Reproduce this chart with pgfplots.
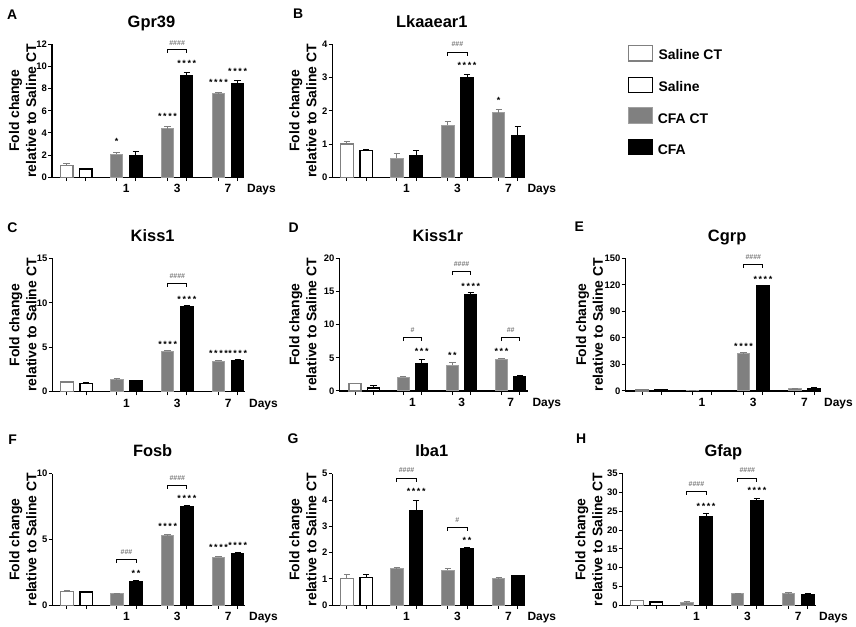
\documentclass[border=0pt]{standalone}
\usepackage{fontspec}
\setmainfont{Liberation Sans}
\usepackage{pgfplots}
\pgfplotsset{compat=1.18}
\definecolor{cgray}{HTML}{808080}
\definecolor{cedge}{HTML}{A0A0A0}
\definecolor{hgray}{HTML}{7A7A7A}

\newcommand{\tfont}{\fontsize{16.5}{18}\selectfont\bfseries}
\newcommand{\lfont}{\fontsize{14}{16}\selectfont\bfseries}
\newcommand{\yfont}{\fontsize{14}{17}\selectfont\bfseries}
\newcommand{\xfont}{\fontsize{12}{14}\selectfont\bfseries}
\newcommand{\tkfont}{\fontsize{9.5}{10}\selectfont\bfseries}
\newcommand{\sfont}{\fontsize{9}{9}\selectfont\bfseries}
\newcommand{\hfont}{\fontsize{7}{7}\selectfont\bfseries}

\newcommand{\one}{*}
\newcommand{\two}{*\kern1.6bp*}
\newcommand{\three}{*\kern1.6bp*\kern1.6bp*}
\newcommand{\four}{*\kern1.6bp*\kern1.6bp*\kern1.6bp*}

\newcommand{\st}[3]{\node[font=\sfont, inner sep=0pt, yshift=-1.9bp] at (axis cs:#1,#2) {#3};}
\newcommand{\hs}[3]{\node[font=\hfont, text=hgray, inner sep=0pt] at (axis cs:#1,#2) {#3};}
\newcommand{\br}[3]{\draw[line width=1pt] ([yshift=-3.5bp]axis cs:#1,#3) -- (axis cs:#1,#3) -- (axis cs:#2,#3) -- ([yshift=-3.5bp]axis cs:#2,#3);}
\newcommand{\days}[1][4bp]{%
 \node[anchor=base, font=\xfont] at ([yshift=-15.4bp]axis cs:3.1,0) {1};
 \node[anchor=base, font=\xfont] at ([yshift=-15.4bp]axis cs:5.75,0) {3};
 \node[anchor=base, font=\xfont] at ([yshift=-15.4bp]axis cs:8.4,0) {7};
 \node[anchor=base west, font=\xfont, inner sep=0pt] at ([xshift=#1,yshift=-15.4bp]rel axis cs:1,0) {Days};}

\pgfplotsset{
 panel/.style={
  scale only axis, anchor=south west, clip=false,
  axis lines=left, axis line style={-, line width=1.1pt},
  ymin=0,
  xtick={0,1,2.6,3.6,5.25,6.25,7.9,8.9}, xticklabels={},
  tick align=outside, major tick length=3.8bp,
  every tick/.style={black, line width=1pt},
  yticklabel style={font=\tkfont, inner sep=1pt},
  /pgf/number format/assume math mode=true,
  ylabel={Fold change\\relative to Saline CT},
  every axis y label/.style={rotate=90, anchor=south, inner sep=0pt, align=center, font=\yfont, at={([xshift=-15.6bp]axis description cs:0,0.5)}},
  every axis title/.style={font=\tfont, anchor=base, inner sep=0pt, at={([xshift=4bp,yshift=17bp]axis description cs:0.5,1)}},
  bar width=0.65,
 },
 ebar/.style={error bars/.cd, y dir=plus, y explicit, error bar style={line width=1pt, draw=#1}, error mark options={rotate=90, line width=1pt, draw=#1, mark size=3.2bp}},
 bsalct/.style={ybar, bar shift=0pt, fill=white, draw=cgray, line width=1.3pt, ebar=cgray},
 bsal/.style={ybar, bar shift=0pt, fill=white, draw=black, line width=1.3pt, ebar=black},
 bcfact/.style={ybar, bar shift=0pt, fill=cgray, draw=cedge, line width=1pt, ebar=cgray},
 bcfa/.style={ybar, bar shift=0pt, fill=black, draw=black, line width=1pt, ebar=black},
}

\begin{document}
\begin{tikzpicture}
\useasboundingbox (0,0) rectangle (856bp,627bp);

% A Gpr39
\begin{axis}[panel, at={(52bp,449.7bp)}, width=191bp, height=133bp, xmin=-0.765, xmax=9.18, ymax=12, ytick={0,2,4,6,8,10,12}, title={Gpr39}]
\addplot[bsalct] coordinates {(0,1.05) +- (0,0.2)};
\addplot[bsal] coordinates {(1,0.75) +- (0,0.05)};
\addplot[bcfact] coordinates {(2.6,2.1) +- (0,0.15) (5.25,4.4) +- (0,0.15) (7.9,7.6) +- (0,0.05)};
\addplot[bcfa] coordinates {(3.6,2.0) +- (0,0.3) (6.25,9.2) +- (0,0.25) (8.9,8.5) +- (0,0.2)};
\st{2.6}{3.37}{\one}
\st{5.25}{5.62}{\four}
\st{6.25}{10.44}{\four}
\hs{5.75}{12.15}{\#\#\#\#}
\br{5.25}{6.25}{11.55}
\st{7.9}{8.72}{\four}
\st{8.9}{9.68}{\four}
\days
\end{axis}

% B Lkaaear1
\begin{axis}[panel, at={(332.3bp,449.7bp)}, width=191bp, height=133bp, xmin=-0.765, xmax=9.18, ymax=4, ytick={0,1,2,3,4}, title={Lkaaear1}]
\addplot[bsalct] coordinates {(0,1.0) +- (0,0.07)};
\addplot[bsal] coordinates {(1,0.8) +- (0,0.03)};
\addplot[bcfact] coordinates {(2.6,0.57) +- (0,0.15) (5.25,1.57) +- (0,0.12) (7.9,1.94) +- (0,0.1)};
\addplot[bcfa] coordinates {(3.6,0.67) +- (0,0.15) (6.25,3.0) +- (0,0.1) (8.9,1.27) +- (0,0.27)};
\hs{5.75}{4.0}{\#\#\#}
\br{5.25}{6.25}{3.76}
\st{6.25}{3.43}{\four}
\st{7.9}{2.36}{\one}
\days
\end{axis}

% C Kiss1
\begin{axis}[panel, at={(52.3bp,235.3bp)}, width=192.7bp, height=133.4bp, xmin=-0.765, xmax=9.28, ymax=15, ytick={0,5,10,15}, title={Kiss1}]
\addplot[bsalct] coordinates {(0,1.1) +- (0,0.05)};
\addplot[bsal] coordinates {(1,0.95) +- (0,0.05)};
\addplot[bcfact] coordinates {(2.6,1.4) +- (0,0.05) (5.25,4.55) +- (0,0.1) (7.9,3.45) +- (0,0.1)};
\addplot[bcfa] coordinates {(3.6,1.25) +- (0,0.05) (6.25,9.6) +- (0,0.1) (8.9,3.55) +- (0,0.1)};
\hs{5.75}{13.05}{\#\#\#\#}
\br{5.25}{6.25}{12.19}
\st{6.25}{10.61}{\four}
\st{5.25}{5.51}{\four}
\st{7.9}{4.5}{\four}
\st{8.9}{4.5}{\four}
\days
\end{axis}

% D Kiss1r
\begin{axis}[panel, at={(339.3bp,236bp)}, width=189bp, height=132.7bp, xmin=-0.847, xmax=9.35, ymax=20, ytick={0,5,10,15,20}, title={Kiss1r},
  every axis y label/.append style={at={([xshift=-22.6bp]axis description cs:0,0.5)}}]
\addplot[bsalct] coordinates {(0,1.15) +- (0,0.05)};
\addplot[bsal] coordinates {(1,0.45) +- (0,0.45)};
\addplot[bcfact] coordinates {(2.6,2.1) +- (0,0.1) (5.25,3.9) +- (0,0.35) (7.9,4.8) +- (0,0.15)};
\addplot[bcfa] coordinates {(3.6,4.2) +- (0,0.6) (6.25,14.5) +- (0,0.35) (8.9,2.15) +- (0,0.15)};
\hs{3.1}{9.2}{\#}
\br{2.6}{3.6}{8.04}
\st{3.6}{6.28}{\three}
\st{5.25}{5.68}{\two}
\hs{5.75}{19.1}{\#\#\#\#}
\br{5.25}{6.25}{17.99}
\st{6.25}{16.08}{\four}
\st{7.9}{6.28}{\three}
\hs{8.4}{9.1}{\#\#}
\br{7.9}{8.9}{8.04}
\days
\end{axis}

% E Cgrp
\begin{axis}[panel, at={(625.3bp,236bp)}, width=195.7bp, height=132.7bp, xmin=-0.863, xmax=9.25, ymax=150, ytick={0,30,60,90,120,150}, title={Cgrp},
  every axis y label/.append style={at={([xshift=-22bp]axis description cs:0,0.5)}}]
\addplot[bsalct] coordinates {(0,1.2) +- (0,0.1)};
\addplot[bsal] coordinates {(1,1.0) +- (0,0.1)};
\addplot[bcfact] coordinates {(2.6,1.0) +- (0,0.1) (5.25,42.5) +- (0,0.5) (7.9,3.0) +- (0,0.2)};
\addplot[bcfa] coordinates {(3.6,0.8) +- (0,0.1) (6.25,119) +- (0,0.5) (8.9,3.2) +- (0,0.2)};
\hs{5.75}{151}{\#\#\#\#}
\br{5.25}{6.25}{143.5}
\st{6.25}{128.5}{\four}
\st{5.25}{52}{\four}
\days[3bp]
\end{axis}

% F Fosb
\begin{axis}[panel, at={(52.3bp,21.7bp)}, width=192.7bp, height=131.6bp, xmin=-0.765, xmax=9.28, ymax=10, ytick={0,5,10}, title={Fosb}]
\addplot[bsalct] coordinates {(0,1.05) +- (0,0.05)};
\addplot[bsal] coordinates {(1,1.0) +- (0,0.02)};
\addplot[bcfact] coordinates {(2.6,0.9) +- (0,0.03) (5.25,5.3) +- (0,0.1) (7.9,3.65) +- (0,0.07)};
\addplot[bcfa] coordinates {(3.6,1.8) +- (0,0.1) (6.25,7.5) +- (0,0.05) (8.9,3.95) +- (0,0.07)};
\hs{3.1}{4.05}{\#\#\#}
\br{2.6}{3.6}{3.47}
\st{3.6}{2.6}{\two}
\hs{5.75}{9.67}{\#\#\#\#}
\br{5.25}{6.25}{9.11}
\st{6.25}{8.23}{\four}
\st{5.25}{6.15}{\four}
\st{7.9}{4.56}{\four}
\st{8.9}{4.73}{\four}
\days
\end{axis}

% G Iba1
\begin{axis}[panel, at={(332.3bp,21.7bp)}, width=191bp, height=131.6bp, xmin=-0.765, xmax=9.18, ymax=5, ytick={0,1,2,3,4,5}, title={Iba1}]
\addplot[bsalct] coordinates {(0,1.03) +- (0,0.13)};
\addplot[bsal] coordinates {(1,1.06) +- (0,0.1)};
\addplot[bcfact] coordinates {(2.6,1.39) +- (0,0.05) (5.25,1.33) +- (0,0.08) (7.9,1.0) +- (0,0.06)};
\addplot[bcfa] coordinates {(3.6,3.6) +- (0,0.37) (6.25,2.14) +- (0,0.04) (8.9,1.14) +- (0,0.01)};
\hs{3.1}{5.13}{\#\#\#\#}
\br{2.6}{3.6}{4.81}
\st{3.6}{4.39}{\four}
\hs{5.75}{3.23}{\#}
\br{5.25}{6.25}{2.97}
\st{6.25}{2.53}{\two}
\days
\end{axis}

% H Gfap
\begin{axis}[panel, at={(622.7bp,21.7bp)}, width=193.3bp, height=131.6bp, xmin=-0.746, xmax=9.33, ymax=35, ytick={0,5,10,15,20,25,30,35}, title={Gfap},
  every axis y label/.append style={at={([xshift=-20bp]axis description cs:0,0.5)}}]
\addplot[bsalct] coordinates {(0,1.2) +- (0,0.2)};
\addplot[bsal] coordinates {(1,0.85) +- (0,0.1)};
\addplot[bcfact] coordinates {(2.6,0.8) +- (0,0.1) (5.25,3.1) +- (0,0.1) (7.9,3.2) +- (0,0.1)};
\addplot[bcfa] coordinates {(3.6,23.6) +- (0,0.8) (6.25,28.0) +- (0,0.4) (8.9,3.0) +- (0,0.1)};
\hs{3.1}{32.3}{\#\#\#\#}
\br{2.6}{3.6}{30.3}
\st{3.6}{26.8}{\four}
\hs{5.75}{35.9}{\#\#\#\#}
\br{5.25}{6.25}{33.8}
\st{6.25}{31.0}{\four}
\days[3bp]
\end{axis}

\begin{scope}[x=1bp, y=-1bp, yshift=627bp]
 \draw[cgray, line width=1.3pt, fill=white] (628.3,45.7) rectangle (652.7,61);
 \node[anchor=base west, font=\lfont, inner sep=0pt] at (658.3,60) {Saline CT};
 \draw[black, line width=1.3pt, fill=white] (628.3,77.3) rectangle (652.7,92.3);
 \node[anchor=base west, font=\lfont, inner sep=0pt] at (658.3,91.7) {Saline};
 \draw[cedge, line width=1pt, fill=cgray] (628.3,107.3) rectangle (652.7,123.3);
 \node[anchor=base west, font=\lfont, inner sep=0pt] at (657.7,123.3) {CFA CT};
 \draw[black, line width=1pt, fill=black] (628.3,140) rectangle (652.7,155);
 \node[anchor=base west, font=\lfont, inner sep=0pt] at (657.7,155) {CFA};
 \node[anchor=base west, font=\lfont, inner sep=0pt] at (7,20) {A};
 \node[anchor=base west, font=\lfont, inner sep=0pt] at (293,19) {B};
 \node[anchor=base west, font=\lfont, inner sep=0pt] at (7.3,232.3) {C};
 \node[anchor=base west, font=\lfont, inner sep=0pt] at (288.3,232.3) {D};
 \node[anchor=base west, font=\lfont, inner sep=0pt] at (574.3,232) {E};
 \node[anchor=base west, font=\lfont, inner sep=0pt] at (8.3,444.3) {F};
 \node[anchor=base west, font=\lfont, inner sep=0pt] at (287.3,443.7) {G};
 \node[anchor=base west, font=\lfont, inner sep=0pt] at (576,443.7) {H};
\end{scope}
\end{tikzpicture}
\end{document}
